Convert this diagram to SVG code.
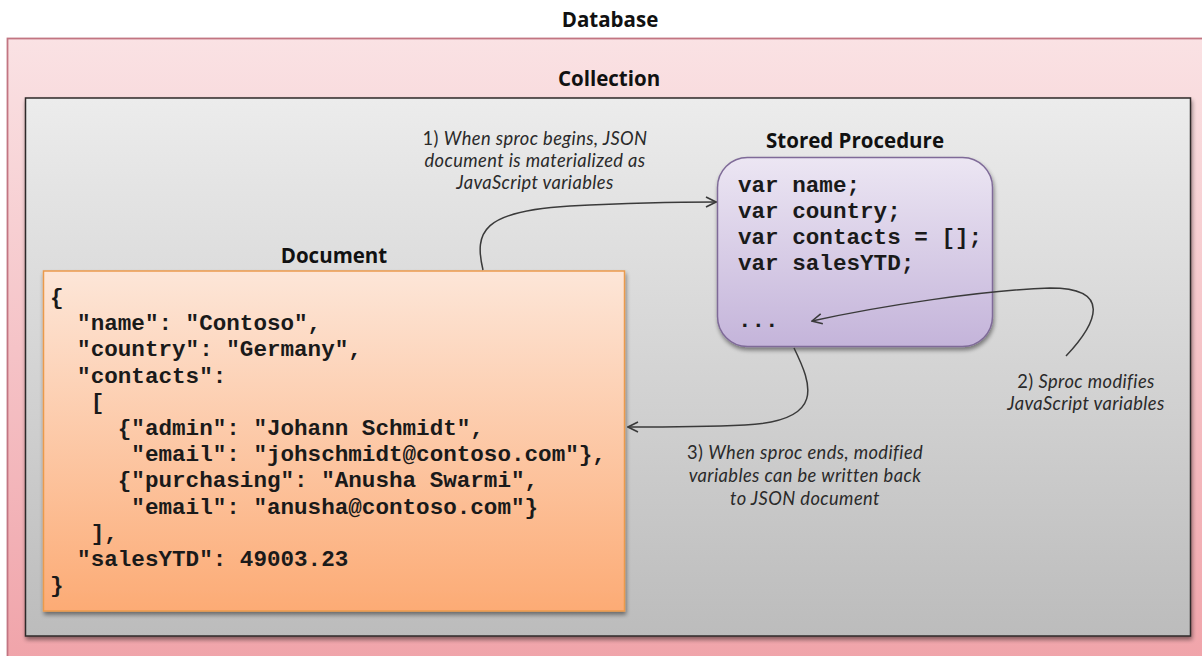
<svg xmlns="http://www.w3.org/2000/svg" width="1202" height="656" viewBox="0 0 1202 656">
  <defs>
    <linearGradient id="gDb" x1="0" y1="0" x2="0" y2="1">
      <stop offset="0" stop-color="#fae2e4"/>
      <stop offset="1" stop-color="#f0a3a9"/>
    </linearGradient>
    <linearGradient id="gCol" x1="0" y1="0" x2="0" y2="1">
      <stop offset="0" stop-color="#ececec"/>
      <stop offset="1" stop-color="#bcbcbc"/>
    </linearGradient>
    <linearGradient id="gDoc" x1="0" y1="0" x2="0" y2="1">
      <stop offset="0" stop-color="#fde6d8"/>
      <stop offset="1" stop-color="#fcab75"/>
    </linearGradient>
    <linearGradient id="gSp" x1="0" y1="0" x2="0" y2="1">
      <stop offset="0" stop-color="#ece6f3"/>
      <stop offset="1" stop-color="#c4b4da"/>
    </linearGradient>
    <filter id="shadow" x="-5%" y="-5%" width="110%" height="115%">
      <feGaussianBlur in="SourceAlpha" stdDeviation="2"/>
      <feOffset dx="1" dy="3" result="b"/>
      <feComponentTransfer><feFuncA type="linear" slope="0.45"/></feComponentTransfer>
      <feMerge><feMergeNode/><feMergeNode in="SourceGraphic"/></feMerge>
    </filter>
    <marker id="arrow" viewBox="0 0 12 12" refX="11" refY="6" markerWidth="12" markerHeight="12" markerUnits="userSpaceOnUse" orient="auto">
      <path d="M1,1 L11,6 L1,11" fill="none" stroke="#3a3a3a" stroke-width="1.6" stroke-linejoin="miter"/>
    </marker>
  </defs>
  <style>
    .title { font-family: "Open Sans", "Noto Sans", "Liberation Sans", sans-serif; font-weight: 700; font-size: 20.5px; fill: #111; text-anchor: middle; }
    .code { font-family: "Liberation Mono", "Courier New", monospace; font-weight: 700; font-size: 22.6px; fill: #1a1a1a; white-space: pre; }
    .note { font-family: Lato, "Open Sans", "Liberation Sans", sans-serif; font-size: 18.3px; letter-spacing: 0.4px; fill: #2a2a2a; text-anchor: middle; }
    .note .it { font-style: italic; }
    .conn { fill: none; stroke: #3a3a3a; stroke-width: 1.5; marker-end: url(#arrow); }
  </style>

  <rect width="1202" height="656" fill="#ffffff"/>

  <!-- Database container -->
  <g id="database">
    <text class="title" x="610" y="27">Database</text>
    <rect x="7.5" y="38.5" width="1200" height="630" fill="url(#gDb)" stroke="#c27582" stroke-width="1.8"/>
  </g>

  <!-- Collection container -->
  <g id="collection">
    <text class="title" x="609" y="86">Collection</text>
    <rect x="25.5" y="98" width="1165" height="538" fill="url(#gCol)" stroke="#2e2a2a" stroke-width="1.5" filter="url(#shadow)"/>
  </g>

  <!-- Document -->
  <g id="document">
    <text class="title" x="334" y="263">Document</text>
    <rect x="43.5" y="271" width="581" height="340" fill="url(#gDoc)" stroke="#eb9a4c" stroke-width="1.5" filter="url(#shadow)"/>
    <text class="code" x="50" y="304">{</text>
    <text class="code" x="50" y="330.2">  "name": "Contoso",</text>
    <text class="code" x="50" y="356.4">  "country": "Germany",</text>
    <text class="code" x="50" y="382.6">  "contacts":</text>
    <text class="code" x="50" y="408.8">   [</text>
    <text class="code" x="50" y="435">     {"admin": "Johann Schmidt",</text>
    <text class="code" x="50" y="461.2">      "email": "johschmidt@contoso.com"},</text>
    <text class="code" x="50" y="487.4">     {"purchasing": "Anusha Swarmi",</text>
    <text class="code" x="50" y="513.6">      "email": "anusha@contoso.com"}</text>
    <text class="code" x="50" y="539.8">   ],</text>
    <text class="code" x="50" y="566">  "salesYTD": 49003.23</text>
    <text class="code" x="50" y="592.2">}</text>
  </g>

  <!-- Stored procedure -->
  <g id="stored-procedure">
    <text class="title" x="855" y="148">Stored Procedure</text>
    <rect x="717.5" y="157.5" width="275" height="189" rx="30" ry="30" fill="url(#gSp)" stroke="#7f6b98" stroke-width="1.5" filter="url(#shadow)"/>
    <text class="code" x="738" y="192">var name;</text>
    <text class="code" x="738" y="218">var country;</text>
    <text class="code" x="738" y="244">var contacts = [];</text>
    <text class="code" x="738" y="270">var salesYTD;</text>
    <text class="code" x="738" y="327">...</text>
  </g>

  <!-- Step annotations -->
  <g id="note-1">
    <text class="note" x="535" y="145">1) <tspan class="it">When sproc begins, JSON</tspan></text>
    <text class="note" x="535" y="167"><tspan class="it">document is materialized as</tspan></text>
    <text class="note" x="535" y="189"><tspan class="it">JavaScript variables</tspan></text>
  </g>
  <g id="note-2">
    <text class="note" x="1086" y="388">2) <tspan class="it">Sproc modifies</tspan></text>
    <text class="note" x="1086" y="410"><tspan class="it">JavaScript variables</tspan></text>
  </g>
  <g id="note-3">
    <text class="note" x="805" y="459">3) <tspan class="it">When sproc ends, modified</tspan></text>
    <text class="note" x="805" y="482"><tspan class="it">variables can be written back</tspan></text>
    <text class="note" x="805" y="505"><tspan class="it">to JSON document</tspan></text>
  </g>

  <!-- Connectors -->
  <g id="connectors">
    <path class="conn" d="M483,270 C474,232 482,211 570,206 C630,203 680,202 716,202"/>
    <path class="conn" d="M1066,356 C1098,322 1112,288 1050,288 C985,290 880,306 812,321"/>
    <path class="conn" d="M794,348 C812,385 826,421 745,425 C700,427 665,427 628,427"/>
  </g>
</svg>
